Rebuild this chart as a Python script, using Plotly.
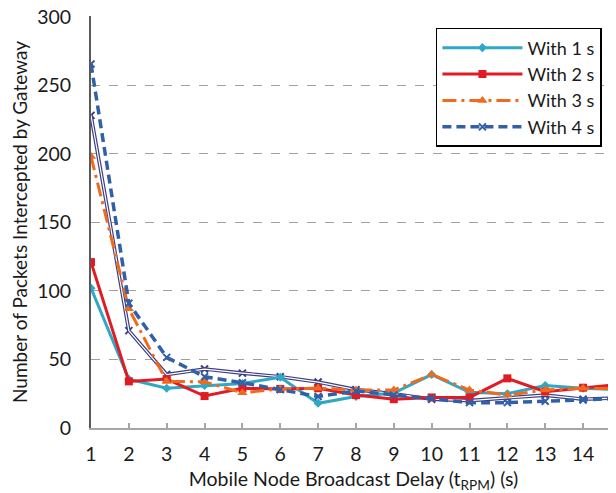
import plotly.graph_objects as go

x_vals = list(range(1, 16))
with_1s = [102, 35.5, 29, 31, 32.5, 37, 18, 23, 25.5, 39, 26, 25, 31, 29, 28]
with_2s = [121, 34, 35.7, 23.3, 29, 28.5, 29, 24, 21, 22.3, 22.3, 36.2, 26.5, 29.4, 32]
with_3s = [198, 87, 34, 33.7, 25.7, 28.5, 29, 27.7, 27.7, 39, 27.7, 24, 27.7, 29, 28.6]
with_4s = [265.5, 91, 51.5, 37.4, 33, 28, 23, 27, 24, 21.6, 18.5, 18.5, 19.5, 20.4, 21.6]
with_4s_b = [228, 71, 39, 43, 40, 37.4, 33.5, 28, 25, 21, 20, 21.8, 24, 21, 22]

names = ["With 1 s", "With 2 s", "With 3 s", "With 4 s"]
y_ticks = [0, 50, 100, 150, 200, 250, 300]

FONT = "Lato"
TXT = "#1a1a1a"
fig = go.Figure()

# second 4 s run drawn as a thin double line (no legend entry)
fig.add_trace(go.Scatter(x=x_vals, y=with_4s_b, mode="lines+markers", showlegend=False,
                         line=dict(color="#3d3f85", width=3.6),
                         marker=dict(symbol="x-thin", size=7, line=dict(color="#3d3f85", width=2)),
                         hoverinfo="skip"))
fig.add_trace(go.Scatter(x=x_vals, y=with_4s_b, mode="lines", showlegend=False,
                         line=dict(color="white", width=1.2), hoverinfo="skip"))

fig.add_trace(go.Scatter(x=x_vals, y=with_1s, name=names[0], mode="lines+markers",
                         line=dict(color="#2fa8c6", width=3),
                         marker=dict(symbol="diamond", size=7, color="#2fa8c6")))
fig.add_trace(go.Scatter(x=x_vals, y=with_2s, name=names[1], mode="lines+markers",
                         line=dict(color="#e01b24", width=3),
                         marker=dict(symbol="square", size=8, color="#e01b24")))
fig.add_trace(go.Scatter(x=x_vals, y=with_3s, name=names[2], mode="lines+markers",
                         line=dict(color="#f06a1e", width=3, dash="14px,5px,3px,5px"),
                         marker=dict(symbol="triangle-up", size=9, color="#f06a1e")))
fig.add_trace(go.Scatter(x=x_vals, y=with_4s, name=names[3], mode="lines+markers",
                         line=dict(color="#3160a8", width=3.5, dash="9px,5px"),
                         marker=dict(symbol="x-thin", size=7, line=dict(color="#3160a8", width=2))))

fig.update_layout(
    width=608, height=485,
    margin=dict(l=83, r=0, t=8, b=65, autoexpand=False),
    paper_bgcolor="white", plot_bgcolor="white",
    font=dict(family=FONT, size=19, color=TXT),
    legend=dict(x=0.657, y=0.971, xanchor="left", yanchor="top",
                bgcolor="white", bordercolor="black", borderwidth=1.5,
                font=dict(family=FONT, size=18, color=TXT),
                itemwidth=80, tracegroupgap=0),
    xaxis=dict(range=[1, 14.87], tickmode="array", tickvals=x_vals,
               ticktext=[str(v) for v in x_vals], automargin=False,
               showgrid=False, zeroline=False,
               showline=True, linecolor="#a6a6a6", linewidth=2,
               ticks="inside", ticklen=5, tickcolor="#a6a6a6", tickwidth=1.5,
               ticklabelstandoff=8, ticklabeloverflow="allow",
               tickfont=dict(family=FONT, size=19.5, color=TXT),
               title=dict(text="Mobile Node Broadcast Delay (t<sub>RPM</sub>) (s)",
                          font=dict(family=FONT, size=19.5, color=TXT), standoff=13)),
    yaxis=dict(range=[0, 300.5], tickvals=y_ticks, ticktext=[str(v) for v in y_ticks],
               automargin=False, ticklabeloverflow="allow",
               showgrid=True, gridcolor="#a0a0a0", griddash="dash", gridwidth=1,
               zeroline=False, showline=True, linecolor="#595959", linewidth=2,
               ticks="", ticklabelstandoff=14,
               tickfont=dict(family=FONT, size=19.5, color=TXT),
               title=dict(text="Number of Packets Intercepted by Gateway",
                          font=dict(family=FONT, size=19, color=TXT), standoff=10)),
)

fig.write_html("out.html")
